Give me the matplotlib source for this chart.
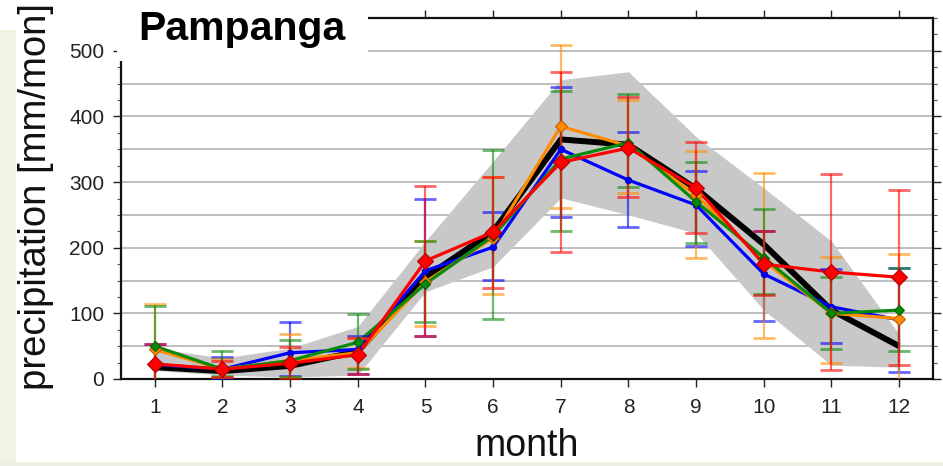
import numpy as np
import matplotlib
matplotlib.use("Agg")
import matplotlib.pyplot as plt
from matplotlib.patches import Rectangle

plt.rcParams['font.family'] = ['Liberation Sans', 'DejaVu Sans']

months = np.arange(1, 13)
title = "Pampanga"
xlabel = "month"
ylabel = "precipitation [mm/mon]"

band_lo = np.array([13, 6, 3, 6, 133, 171, 276, 250, 222, 105, 21, 18])
band_hi = np.array([47, 32, 47, 80, 210, 332, 456, 468, 369, 291, 210, 68])
black = np.array([18, 12, 20, 42, 155, 225, 365, 357, 290, 205, 105, 50])

blue = np.array([22, 15, 40, 45, 165, 201, 350, 303, 265, 160, 110, 90])
blue_lo = np.array([-10, 2, 5, 8, 66, 151, 247, 232, 202, 89, 55, 10])
blue_hi = np.array([53, 33, 87, 66, 275, 254, 445, 376, 317, 225, 167, 169])

orange = np.array([45, 15, 28, 40, 148, 215, 385, 355, 280, 180, 100, 92])
orange_lo = np.array([-10, 3, 3, 17, 81, 129, 260, 283, 185, 62, 24, -10])
orange_hi = np.array([115, 30, 68, 63, 210, 308, 509, 425, 348, 314, 186, 191])

green = np.array([50, 15, 28, 56, 145, 218, 335, 360, 270, 185, 100, 105])
green_lo = np.array([-10, 5, 3, 15, 87, 91, 226, 293, 207, 130, 45, 43])
green_hi = np.array([111, 43, 60, 99, 210, 349, 439, 434, 330, 259, 155, 169])

red = np.array([23, 15, 24, 37, 180, 224, 330, 352, 291, 175, 163, 155])
red_lo = np.array([-10, 3, 0, 8, 66, 139, 194, 278, 223, 128, 14, 22])
red_hi = np.array([53, 28, 49, 62, 294, 308, 468, 429, 361, 225, 313, 288])

W, H = 943, 466
fig = plt.figure(figsize=(W / 100, H / 100), dpi=100)
fig.patch.set_facecolor('white')

def fx(px):
    return px / W

def fy(py):
    return 1 - py / H

ax = fig.add_axes([fx(121), fy(379), fx(933) - fx(121), fy(18) - fy(379)])
ax.set_xlim(0.5, 12.5)
ax.set_ylim(0, 550)

for yv in np.arange(50, 550, 50):
    ax.axhline(yv, color='#b4b4b4', lw=1.2, zorder=0.5)

ax.fill_between(months, band_lo, band_hi, color='#c8c8c8', lw=0, zorder=1)
ax.plot(months, black, color='black', lw=4.3, zorder=3, solid_capstyle='butt')

series = [
    (blue, blue_lo, blue_hi, '#0000ff', 'o', 4.5, '#0000cc', 4),
    (orange, orange_lo, orange_hi, '#ff8c00', 'D', 6.5, '#c06000', 5),
    (green, green_lo, green_hi, '#0a8a0a', 'D', 5.5, '#006000', 6),
    (red, red_lo, red_hi, '#ff0000', 'D', 8.0, '#b00000', 7),
]
for vals, lo, hi, col, mk, ms, ec, z in series:
    ax.plot(months, vals, color=col, lw=2.3, zorder=z)
for vals, lo, hi, col, mk, ms, ec, z in series:
    ax.errorbar(months, vals, yerr=[vals - lo, hi - vals], fmt='none',
                ecolor=col, alpha=0.6, capsize=8, capthick=2.0,
                elinewidth=1.6, zorder=8)
for vals, lo, hi, col, mk, ms, ec, z in series:
    ax.plot(months, vals, ls='none', marker=mk, ms=ms, mfc=col, mec=ec,
            mew=0.8, zorder=9 + z / 10)

ax.set_xticks(months)
ax.set_xticklabels([str(m) for m in months])
ax.set_yticks(np.arange(0, 501, 100))
ax.set_yticks(np.arange(0, 551, 25), minor=True)
ax.tick_params(axis='both', which='major', direction='out', length=6,
               width=1, labelsize=15, colors='#222222', top=True, right=True)
ax.tick_params(axis='y', which='minor', direction='out', length=3,
               width=0.8, right=True, left=True, colors='#555555')
ax.tick_params(axis='x', pad=8)
ax.tick_params(axis='y', pad=6)
for s in ax.spines.values():
    s.set_linewidth(1.6)
    s.set_color('#111111')

# labels
fig.text(fx(36), fy(197), ylabel, rotation=90, ha='center', va='center',
         fontsize=27.5, color='#111111')
fig.text(fx(527), fy(446), xlabel, ha='center', va='center',
         fontsize=27, color='#111111')

# background decoration of the slide
fig.add_artist(Rectangle((0, 0), fx(16), fy(30), transform=fig.transFigure,
                         facecolor='#eff5e2', edgecolor='none', zorder=0.1))
fig.add_artist(Rectangle((0, 0), 1, fy(462), transform=fig.transFigure,
                         facecolor='#f0efe6', edgecolor='none', zorder=0.1))

# title box
fig.add_artist(Rectangle((fx(117), fy(61)), fx(368) - fx(117), 1 - fy(61),
                         transform=fig.transFigure, facecolor='white',
                         edgecolor='none', zorder=20))
t = fig.text(fx(138), fy(40), title, ha='left', va='baseline', fontsize=29.5,
             fontweight='bold', color='black', zorder=21)

fig.savefig('out.png', dpi=100)
